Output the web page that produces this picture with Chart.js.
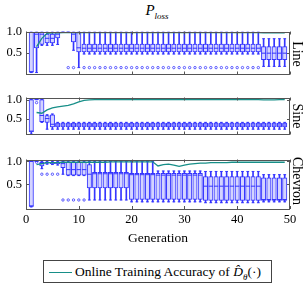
<!DOCTYPE html>
<html>
<head>
<meta charset="utf-8">
<script src="https://cdn.jsdelivr.net/npm/chart.js@4.4.1/dist/chart.umd.min.js"></script>
<style>
  body { margin: 0; width: 308px; height: 285px; background: #fff; position: relative; overflow: hidden; font-family: "Liberation Serif", serif; color: #000; }
  canvas { position: absolute; left: 0; }
  #title { position: absolute; left: 0; width: 314px; top: 2px; text-align: center; font-size: 15px; font-style: italic; }
  #title sub { font-size: 9px; }
  .side { position: absolute; font-size: 14px; white-space: nowrap; transform: translate(-50%, -50%) rotate(90deg); }
  #legend { position: absolute; left: 43px; top: 260px; width: 227px; height: 21px; border: 1px solid #444; font-size: 13.5px; line-height: 21px; }
  #legend .swatch { position: absolute; left: 5px; top: 11px; width: 23px; height: 0; border-top: 1.5px solid #178f88; }
  #legend .txt { position: absolute; left: 31px; top: 0; white-space: nowrap; }
</style>
</head>
<body>
<div id="title">P<sub>loss</sub></div>
<canvas id="c1" width="308" height="66" style="top:20px;width:308px;height:66px"></canvas>
<canvas id="c2" width="308" height="60" style="top:86px;width:308px;height:60px"></canvas>
<canvas id="c3" width="308" height="104" style="top:148px;width:308px;height:104px"></canvas>
<div class="side" style="left:297px;top:54px">Line</div>
<div class="side" style="left:297px;top:116px">Sine</div>
<div class="side" style="left:297px;top:181px">Chevron</div>
<div id="legend"><span class="swatch"></span><span class="txt">Online Training Accuracy of <i>D̂</i><sub style="font-size:9px"><i>θ</i></sub>(·)</span></div>
<script>
// generations that have a box
const gens = [1,2,3,4,5,6,7,8,9,10,11,12,13,14,15,16,17,18,19,20,21,22,23,24,25,
  26,27,28,29,30,31,32,33,34,35,36,37,38,39,40,41,42,43,44,45,46,47,48,49];
// generations of the accuracy line
const accGens = [2,3,4,5,6,7,8,9,10,11,12,13,14,15,16,17,18,19,20,21,22,23,24,25,
  26,27,28,29,30,31,32,33,34,35,36,37,38,39,40,41,42,43,44,45,46,47,48,49];
const xTickVals = [0, 10, 20, 30, 40, 50];
const yTickVals = [0.5, 1.0];

// Line
const lineMin = [0.02,0.02,0.68,0.68,0.68,0.70,1.0,1.0,0.56,0.14,
  0.47,0.47,0.47,0.47,0.47,0.47,0.47,0.47,0.47,0.47,0.47,0.47,0.47,0.47,0.47,0.47,0.47,
  0.47,0.47,0.47,0.47,0.47,0.47,0.47,0.47,0.47,0.47,0.47,0.47,0.47,0.47,0.47,0.47,0.47,
  0.17,0.17,0.17,0.17,0.17];
const lineQ1 = [0.03,0.62,0.70,0.74,0.74,0.86,1.0,1.0,0.76,0.52,
  0.52,0.52,0.52,0.52,0.52,0.52,0.52,0.52,0.52,0.52,0.52,0.52,0.52,0.52,0.52,0.52,0.52,
  0.52,0.52,0.52,0.52,0.52,0.52,0.52,0.52,0.52,0.52,0.52,0.52,0.52,0.52,0.52,0.52,0.52,
  0.33,0.33,0.33,0.33,0.33];
const lineMed = [0.04,0.95,0.95,0.85,0.85,0.95,1.0,1.0,0.95,0.62,
  0.61,0.61,0.61,0.61,0.61,0.61,0.61,0.61,0.61,0.61,0.61,0.61,0.61,0.61,0.61,0.61,0.61,
  0.61,0.61,0.61,0.61,0.61,0.61,0.61,0.61,0.61,0.61,0.61,0.61,0.61,0.61,0.61,0.61,0.61,
  0.49,0.49,0.49,0.49,0.49];
const lineQ3 = [1.0,1.0,1.0,0.95,0.95,1.0,1.0,1.0,1.0,1.0,
  0.71,0.71,0.71,0.71,0.71,0.71,0.71,0.71,0.71,0.71,0.71,0.71,0.71,0.71,0.71,0.71,0.71,
  0.71,0.71,0.71,0.71,0.71,0.71,0.71,0.71,0.71,0.71,0.71,0.71,0.71,0.71,0.71,0.71,0.71,
  0.65,0.65,0.65,0.65,0.65];
const lineMax = [1.0,1.0,1.0,1.0,1.0,1.0,1.0,1.0,1.0,1.0,
  1.0,1.0,1.0,1.0,1.0,1.0,1.0,1.0,1.0,1.0,1.0,1.0,1.0,1.0,1.0,1.0,1.0,
  1.0,1.0,1.0,1.0,1.0,1.0,1.0,1.0,1.0,1.0,1.0,1.0,1.0,1.0,1.0,1.0,1.0,
  0.84,0.84,0.84,0.84,0.84];
const lineOutX = [8,9,11,12,13,14,15,16,17,18,19,20,21,22,23,24,25,26,27,28,29,30,
  31,32,33,34,35,36,37,38,39,40,41,42,43,44];
const lineOutY = [0.14,0.14,0.14,0.14,0.14,0.14,0.14,0.14,0.14,0.14,0.14,0.14,0.14,0.14,
  0.14,0.14,0.14,0.14,0.14,0.14,0.14,0.14,0.14,0.14,0.14,0.14,0.14,0.14,0.14,0.14,0.14,
  0.14,0.14,0.14,0.14,0.14];
const lineAcc = [0.65,0.85,0.97,0.98,0.98,0.99,0.99,0.99,0.99,0.99,
  0.99,0.99,0.99,0.99,0.99,0.99,0.99,0.99,0.99,0.99,0.99,0.99,0.99,0.99,0.99,0.99,0.99,
  0.99,0.99,0.99,0.99,0.99,0.99,0.99,0.99,0.99,0.99,0.99,0.99,0.99,0.99,0.99,0.99,
  0.98,0.98,0.98,0.98,0.98];

// Sine
const sineMin = [0.09,1.0,0.40,0.22,0.22,
  0.22,0.22,0.22,0.22,0.22,0.22,0.22,0.22,0.22,0.22,0.22,0.22,0.22,0.22,0.22,0.22,0.22,0.22,
  0.22,0.22,0.22,0.22,0.22,0.22,0.22,0.22,0.22,0.22,0.22,0.22,0.22,0.22,0.22,0.22,0.22,0.22,
  0.22,0.22,0.22,0.22,0.22,0.22,0.22,0.22];
const sineQ1 = [0.15,1.0,0.42,0.40,0.28,
  0.28,0.28,0.28,0.28,0.28,0.28,0.28,0.28,0.28,0.28,0.28,0.28,0.28,0.28,0.28,0.28,0.28,0.28,
  0.28,0.28,0.28,0.28,0.28,0.28,0.28,0.28,0.28,0.28,0.28,0.28,0.28,0.28,0.28,0.28,0.28,0.28,
  0.28,0.28,0.28,0.28,0.28,0.28,0.28,0.28];
const sineMed = [0.17,1.0,0.58,0.50,0.35,
  0.33,0.33,0.33,0.33,0.33,0.33,0.33,0.33,0.33,0.33,0.33,0.33,0.33,0.33,0.33,0.33,0.33,0.33,
  0.33,0.33,0.33,0.33,0.33,0.33,0.33,0.33,0.33,0.33,0.33,0.33,0.33,0.33,0.33,0.33,0.33,0.33,
  0.33,0.33,0.33,0.33,0.33,0.33,0.33,0.33];
const sineQ3 = [1.0,1.0,1.0,0.58,0.60,
  0.38,0.38,0.38,0.38,0.38,0.38,0.38,0.38,0.38,0.38,0.38,0.38,0.38,0.38,0.38,0.38,0.38,0.38,
  0.38,0.38,0.38,0.38,0.38,0.38,0.38,0.38,0.38,0.38,0.38,0.38,0.38,0.38,0.38,0.38,0.38,0.38,
  0.38,0.38,0.38,0.38,0.38,0.38,0.38,0.38];
const sineMax = [1.0,1.0,1.0,0.60,0.62,
  0.40,0.40,0.40,0.40,0.40,0.40,0.40,0.40,0.40,0.40,0.40,0.40,0.40,0.40,0.40,0.40,0.40,0.40,
  0.40,0.40,0.40,0.40,0.40,0.40,0.40,0.40,0.40,0.40,0.40,0.40,0.40,0.40,0.40,0.40,0.40,0.40,
  0.40,0.40,0.40,0.40,0.40,0.40,0.40,0.40];
const sineOutX = [2];
const sineOutY = [0.92];
const sineAcc = [0.66,0.64,0.73,0.78,0.81,0.83,0.85,0.89,0.94,0.98,0.99,
  1.0,1.0,1.0,1.0,1.0,1.0,1.0,1.0,1.0,1.0,1.0,1.0,1.0,1.0,1.0,1.0,
  1.0,1.0,1.0,1.0,1.0,1.0,1.0,1.0,1.0,1.0,1.0,1.0,1.0,1.0,1.0,1.0,
  0.99,0.99,0.99,1.0,1.0];

// Chevron
const chevMin = [0.01,1.0,0.84,0.94,0.93,0.92,0.72,0.69,0.69,0.69,0.69,0.16,
  0.16,0.16,0.16,0.16,0.16,0.16,0.16,
  0.12,0.12,0.12,0.12,0.12,
  0.12,0.12,0.12,0.12,0.12,0.12,0.12,0.12,0.12,
  0.10,0.10,0.10,0.10,0.10,0.10,0.10,0.10,0.10,0.10,0.10,
  0.12,0.12,0.12,0.12,0.12];
const chevQ1 = [0.02,1.0,0.90,0.96,0.95,0.95,0.86,0.70,0.70,0.70,0.70,0.42,
  0.42,0.42,0.42,0.42,0.42,0.42,0.42,
  0.17,0.17,0.17,0.17,0.17,
  0.17,0.17,0.17,0.17,0.17,0.17,0.17,0.17,0.17,
  0.15,0.15,0.15,0.15,0.15,0.15,0.15,0.15,0.15,0.15,0.15,
  0.15,0.15,0.15,0.15,0.15];
const chevMed = [0.03,1.0,0.95,0.97,0.97,0.97,0.95,0.82,0.82,0.82,0.82,0.72,
  0.73,0.73,0.73,0.73,0.73,0.73,0.73,
  0.71,0.71,0.71,0.71,0.71,
  0.70,0.70,0.70,0.70,0.70,0.70,0.70,0.70,0.70,
  0.46,0.46,0.46,0.46,0.46,0.46,0.46,0.46,0.46,0.46,0.46,
  0.17,0.17,0.17,0.17,0.17];
const chevQ3 = [1.0,1.0,0.98,0.98,0.98,0.98,0.99,0.98,0.98,0.98,0.98,0.93,
  0.76,0.76,0.76,0.76,0.76,0.76,0.76,
  0.74,0.74,0.74,0.74,0.74,
  0.74,0.74,0.74,0.74,0.74,0.74,0.74,0.74,0.74,
  0.67,0.67,0.67,0.67,0.67,0.67,0.67,0.67,0.67,0.67,0.67,
  0.64,0.64,0.64,0.64,0.64];
const chevMax = [1.0,1.0,1.0,1.0,1.0,1.0,1.0,1.0,1.0,1.0,1.0,1.0,
  1.0,1.0,1.0,1.0,1.0,1.0,1.0,
  1.0,1.0,1.0,1.0,1.0,
  0.79,0.79,0.79,0.79,0.79,0.79,0.79,0.79,0.79,
  0.78,0.78,0.78,0.78,0.78,0.78,0.78,0.78,0.78,0.78,0.78,
  0.71,0.71,0.71,0.71,0.71];
const chevOutX = [2,3,4,5,6,7,8,9,10,11];
const chevOutY = [0.98,0.72,0.72,0.72,0.72,0.16,0.16,0.16,0.16,0.16];
const chevAcc = [0.93,0.95,0.97,0.97,0.97,0.98,0.98,0.98,0.98,0.98,0.98,0.98,0.98,0.98,
  0.99,0.99,0.99,0.99,0.99,0.99,0.99,0.99,0.99,
  0.90,0.93,0.94,0.92,0.89,0.92,0.94,0.95,0.96,0.96,0.97,0.97,0.97,0.97,
  0.98,0.98,0.98,0.98,0.98,0.98,0.98,0.98,0.98,0.98,0.98];

const blue = '#3535ff';
const boxFill = '#d4d4ff';
const teal = '#178f88';
const serif = '"Liberation Serif", serif';

const framePlugin = {
  id: 'frame',
  afterDatasetsDraw(chart) {
    const { ctx, chartArea: a, scales } = chart;
    ctx.save();
    ctx.strokeStyle = '#555';
    ctx.lineWidth = 1;
    ctx.beginPath();
    xTickVals.forEach(v => {
      const px = Math.round(scales.x.getPixelForValue(v)) + 0.5;
      ctx.moveTo(px, a.bottom); ctx.lineTo(px, a.bottom - 3);
      ctx.moveTo(px, a.top); ctx.lineTo(px, a.top + 3);
    });
    yTickVals.forEach(v => {
      const py = Math.round(scales.y.getPixelForValue(v)) + 0.5;
      ctx.moveTo(a.left, py); ctx.lineTo(a.left + 3, py);
      ctx.moveTo(a.right, py); ctx.lineTo(a.right - 3, py);
    });
    ctx.stroke();
    ctx.strokeRect(Math.round(a.left) + 0.5, Math.round(a.top) + 0.5,
      Math.round(a.right - a.left) - 1, Math.round(a.bottom - a.top) - 1);
    ctx.restore();
  }
};

function makeDatasets(mins, q1s, meds, q3s, maxs, outX, outY, acc) {
  return [
    { type: 'line', data: accGens.map((g, i) => ({ x: g, y: acc[i] })),
      borderColor: teal, borderWidth: 1.3, pointRadius: 0, tension: 0 },
    { type: 'scatter', data: gens.map((g, i) => ({ x: g, y: meds[i] })),
      pointStyle: 'line', pointRadius: 2.2, pointBorderColor: blue, pointBorderWidth: 1 },
    { type: 'scatter', data: gens.map((g, i) => ({ x: g, y: mins[i] })),
      pointStyle: 'line', pointRadius: 1.4, pointBorderColor: blue, pointBorderWidth: 1 },
    { type: 'scatter', data: gens.map((g, i) => ({ x: g, y: maxs[i] })),
      pointStyle: 'line', pointRadius: 1.4, pointBorderColor: blue, pointBorderWidth: 1 },
    { type: 'scatter', data: outX.map((g, i) => ({ x: g, y: outY[i] })),
      pointStyle: 'circle', pointRadius: 1.2, pointBorderColor: blue, pointBackgroundColor: '#fff', pointBorderWidth: 0.8 },
    { type: 'bar', data: gens.map((g, i) => ({ x: g, y: [q1s[i], q3s[i]] })),
      backgroundColor: boxFill, borderColor: blue, borderWidth: 1, borderSkipped: false,
      barThickness: 4.4, grouped: false },
    { type: 'bar', data: gens.map((g, i) => ({ x: g, y: [mins[i], maxs[i]] })),
      backgroundColor: blue, borderWidth: 0, barThickness: 1, grouped: false }
  ];
}

function makeChart(id, datasets, yMin, yMax, padTop, padBottom, showX) {
  return new Chart(document.getElementById(id), {
    type: 'bar',
    data: { datasets },
    options: {
      responsive: false,
      animation: false,
      events: [],
      layout: { padding: { top: padTop, bottom: padBottom, left: 0, right: 18 } },
      plugins: { legend: { display: false }, tooltip: { enabled: false } },
      scales: {
        x: {
          type: 'linear', min: 0, max: 50, offset: false, display: showX,
          grid: { display: false, drawTicks: false }, border: { display: false },
          afterBuildTicks: s => { s.ticks = xTickVals.map(v => ({ value: v })); },
          ticks: { font: { family: serif, size: 12.5 }, color: '#000', padding: 3, maxRotation: 0 },
          title: { display: showX, text: 'Generation', color: '#000',
            font: { family: serif, size: 13.5 }, padding: { top: 0, bottom: 5 } },
          afterFit: s => { if (showX) s.height = 43; }
        },
        y: {
          min: yMin, max: yMax,
          grid: { display: false, drawTicks: false }, border: { display: false },
          afterBuildTicks: s => { s.ticks = yTickVals.map(v => ({ value: v })); },
          ticks: { font: { family: serif, size: 12.5 }, color: '#000', padding: 4,
            callback: v => v.toFixed(1) },
          afterFit: s => { s.width = 26; }
        }
      }
    },
    plugins: [framePlugin]
  });
}

makeChart('c1', makeDatasets(lineMin, lineQ1, lineMed, lineQ3, lineMax, lineOutX, lineOutY, lineAcc),
  -0.027, 1.015, 9.3, 6.7, false);
makeChart('c2', makeDatasets(sineMin, sineQ1, sineMed, sineQ3, sineMax, sineOutX, sineOutY, sineAcc),
  0.08, 1.055, 6, 4.7, false);
makeChart('c3', makeDatasets(chevMin, chevQ1, chevMed, chevQ3, chevMax, chevOutX, chevOutY, chevAcc),
  -0.036, 1.04, 9.3, 0, true);
</script>
</body>
</html>
